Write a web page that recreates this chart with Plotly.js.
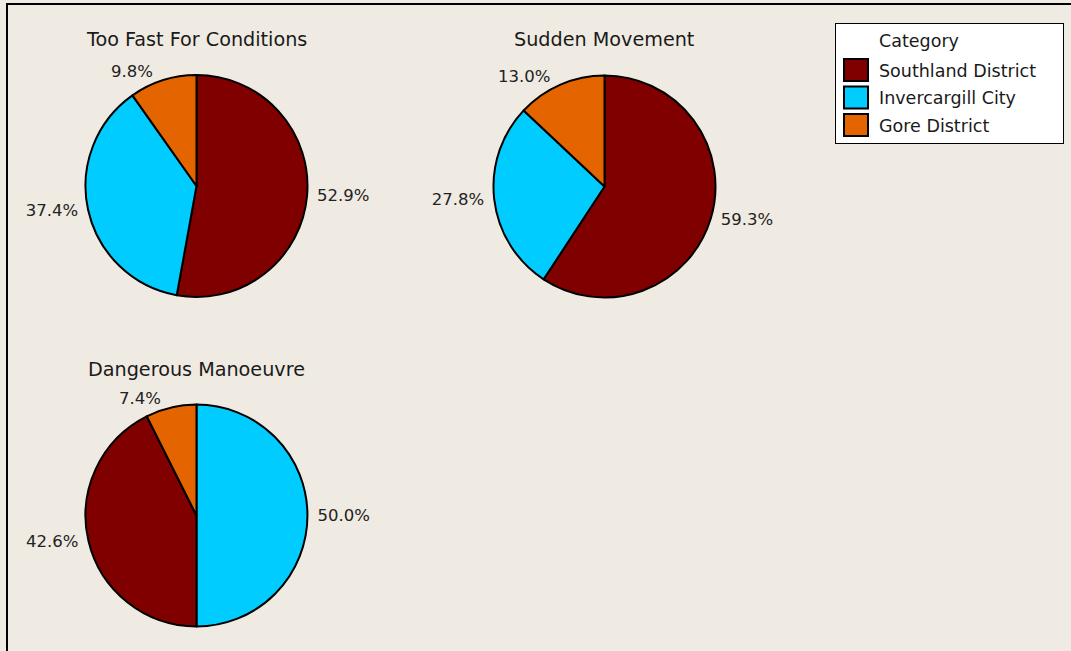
<!DOCTYPE html>
<html><head><meta charset="utf-8">
<script src="https://cdn.plot.ly/plotly-3.0.1.min.js"></script>
<style>html,body{margin:0;padding:0;background:#F0EBE2;} #chart{width:1071px;height:651px;}</style>
</head><body><div id="chart"></div>
<script>
const categories = ['Southland District', 'Invercargill City', 'Gore District'];
const categoryColors = ['#800000', '#00CCFF', '#E46400'];
const pieTitles = ['Too Fast For Conditions', 'Sudden Movement', 'Dangerous Manoeuvre'];
const tooFastValues = [52.9, 37.4, 9.8];
const suddenMovementValues = [59.3, 27.8, 13.0];
const dangerousManoeuvreValues = [42.6, 50.0, 7.4];
const legendTitle = 'Category';

const W = 1071, H = 651;
const FONT = 'DejaVu Sans, Verdana, sans-serif';
const px = v => v / W;
const py = v => 1 - v / H;

function pieTrace(values, dom) {
  return {
    type: 'pie',
    labels: categories,
    values: values,
    marker: {colors: categoryColors, line: {color: '#000000', width: 2}},
    sort: true,
    direction: 'clockwise',
    rotation: 0,
    textposition: 'outside',
    texttemplate: '\u00a0%{value:.1f}%\u00a0',
    textfont: {family: FONT, size: 16.5, color: '#222222'},
    outsidetextfont: {family: FONT, size: 16.5, color: '#222222'},
    hoverinfo: 'none',
    domain: dom
  };
}

const data = [
  pieTrace(tooFastValues, {x: [px(85.5), px(307.5)], y: [py(297), py(75)]}),
  pieTrace(suddenMovementValues, {x: [px(493.5), px(715.5)], y: [py(297.5), py(75.5)]}),
  pieTrace(dangerousManoeuvreValues, {x: [px(85.5), px(307.5)], y: [py(626.5), py(404.5)]})
];

const titlePos = [[196, 40], [604, 40], [196, 369]];
const layout = {
  width: W, height: H,
  margin: {l: 0, r: 0, t: 0, b: 0, pad: 0},
  paper_bgcolor: '#F0EBE2',
  plot_bgcolor: '#F0EBE2',
  font: {family: FONT, color: '#1a1a1a'},
  showlegend: true,
  legend: {
    x: px(835), xanchor: 'left', y: py(23), yanchor: 'top',
    bgcolor: '#FFFFFF', bordercolor: '#000000', borderwidth: 1,
    font: {family: FONT, size: 17.5, color: '#1a1a1a'},
    title: {text: legendTitle, font: {family: FONT, size: 17.5, color: '#1a1a1a'}},
    traceorder: 'normal'
  },
  annotations: pieTitles.map((t, i) => ({
    text: t, xref: 'paper', yref: 'paper',
    x: px(titlePos[i][0]), y: py(titlePos[i][1]),
    xanchor: 'center', yanchor: 'middle', showarrow: false,
    font: {family: FONT, size: 19.2, color: '#1a1a1a'}
  })),
  shapes: [{
    type: 'rect', xref: 'paper', yref: 'paper',
    x0: px(7), x1: 1.05, y0: -0.05, y1: py(4),
    line: {color: '#000000', width: 2}, fillcolor: 'rgba(0,0,0,0)'
  }]
};

Plotly.newPlot('chart', data, layout, {staticPlot: true, displayModeBar: false}).then(gd => {
  gd.querySelectorAll('.legendpie').forEach(p => p.setAttribute('d', 'M12,11H-12V-11H12Z'));
  gd.querySelectorAll('.legend .legendtext').forEach(t => t.setAttribute('x', 43));
  const lt = gd.querySelector('.legendtitletext');
  if (lt) lt.setAttribute('x', 44);
  const sb = gd.querySelector('.legend .scrollbox');
  if (sb) sb.removeAttribute('clip-path');
  gd.querySelectorAll('.legend .traces').forEach((t, i) => {
    const m = (t.getAttribute('transform') || '').match(/translate\(\s*([-\d.]+)[ ,]+([-\d.]+)\s*\)/);
    const x = m ? m[1] : 1;
    t.setAttribute('transform', 'translate(' + x + ',' + (47 + i * 27.5) + ')');
  });
  const bg = gd.querySelector('.legend .bg');
  if (bg) {
    bg.setAttribute('width', 228);
    bg.setAttribute('height', 120);
  }
});
</script>
</body></html>
